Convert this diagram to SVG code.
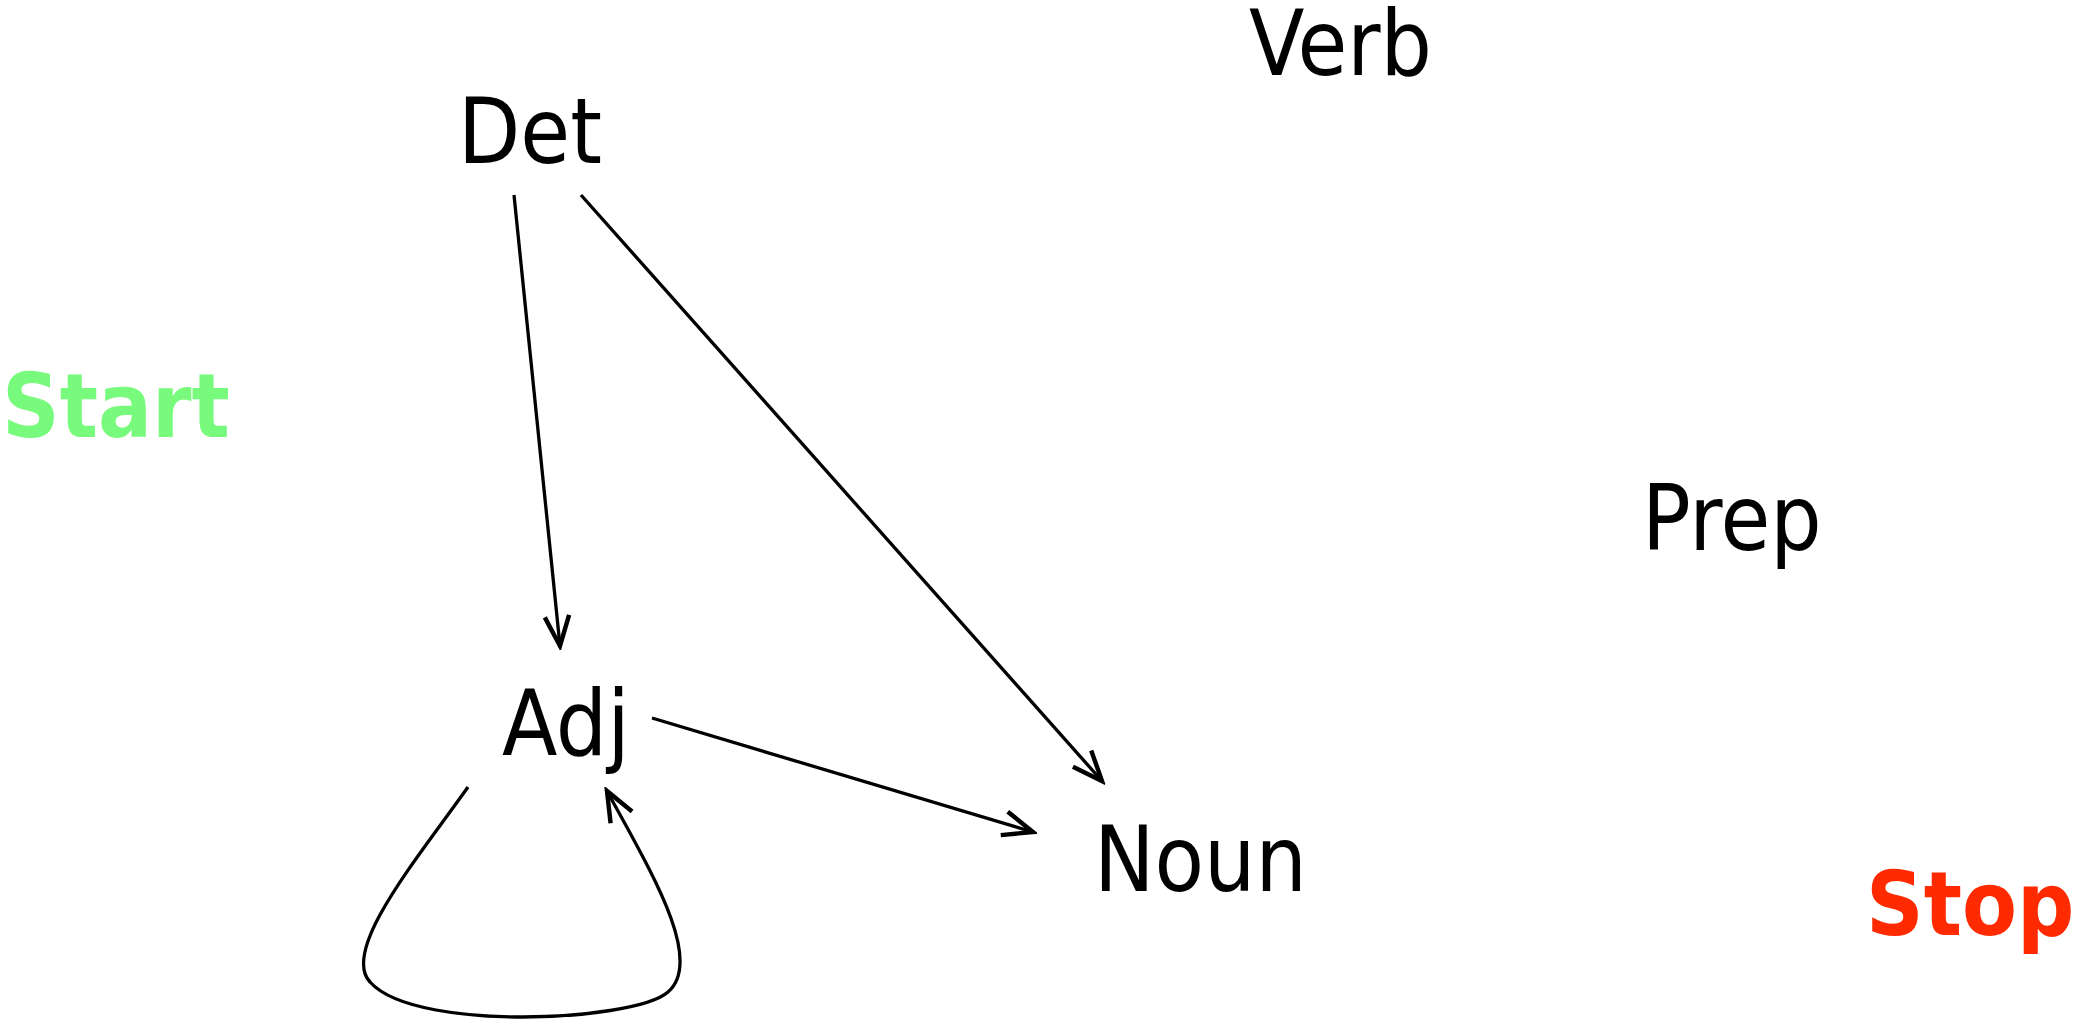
<svg xmlns="http://www.w3.org/2000/svg" width="2077" height="1021" viewBox="0 0 2077 1021">
<style>
.lbl{font-family:"DejaVu Sans Condensed","DejaVu Sans",sans-serif;font-size:90px;fill:#000}
.term{font-family:"DejaVu Sans Condensed","DejaVu Sans",sans-serif;font-size:89px;font-weight:bold}
.edge{fill:none;stroke:#000;stroke-width:3.3;marker-end:url(#arr)}
</style>
<defs>
<marker id="arr" markerUnits="userSpaceOnUse" markerWidth="40" markerHeight="40" viewBox="-32 -16 36 32" refX="0" refY="0" orient="auto">
<path d="M-27,-11 L0,0 L-27,11" fill="none" stroke="#000" stroke-width="4"/>
</marker>
</defs>
<rect width="2077" height="1021" fill="#fff"/>
<g id="connectors">
<path class="edge" d="M514,195 L560,646"/>
<path class="edge" d="M581,195 L1102,781"/>
<path class="edge" d="M652,718 L1033,832"/>
<path class="edge" d="M468,787 C420,855 340,950 370,982 C395,1010 470,1017 523,1017 C580,1017 650,1008 668,992 C705,960 650,870 607,791"/>
</g>
<g id="node-start"><text class="term" x="2" y="437" fill="#78FA7D">Start</text></g>
<g id="node-det"><text class="lbl" x="458" y="163">Det</text></g>
<g id="node-verb"><text class="lbl" x="1249" y="75">Verb</text></g>
<g id="node-prep"><text class="lbl" x="1642" y="550">Prep</text></g>
<g id="node-adj"><text class="lbl" x="502" y="755">Adj</text></g>
<g id="node-noun"><text class="lbl" x="1094" y="891">Noun</text></g>
<g id="node-stop"><text class="term" x="1866" y="935" fill="#FF2A00">Stop</text></g>
</svg>
